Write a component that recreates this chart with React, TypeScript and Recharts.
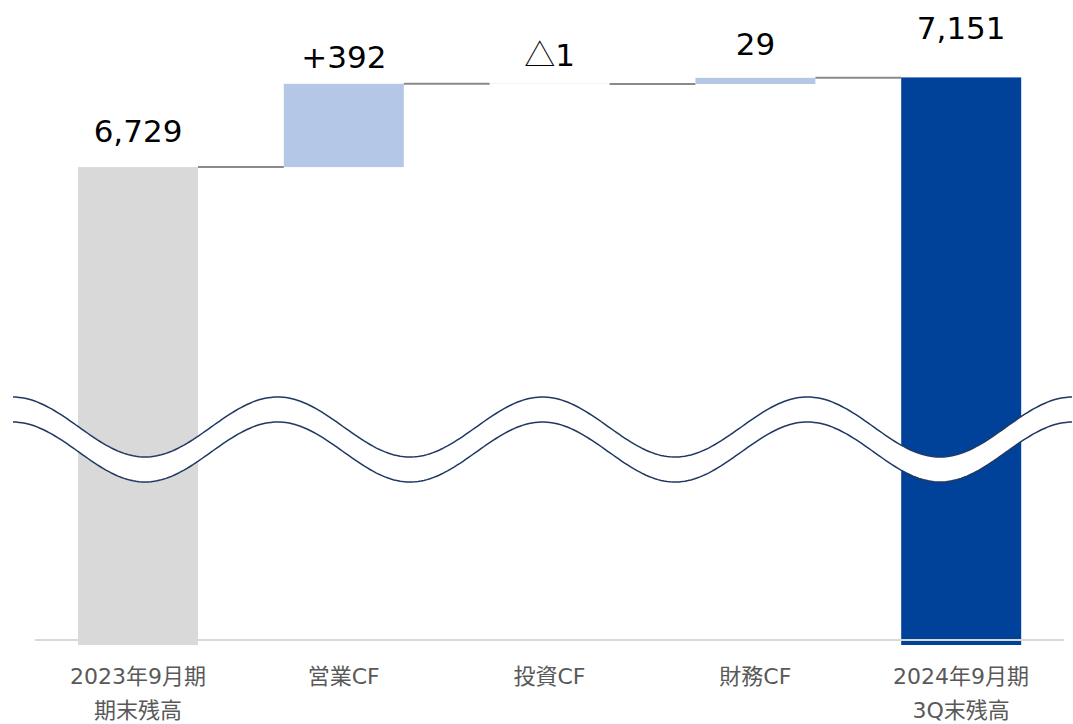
import React from "react";
import { BarChart, Bar, XAxis, YAxis, Cell, LabelList, ReferenceLine } from "recharts";

const categories = ["2023年9月期\n期末残高", "営業CF", "投資CF", "財務CF", "2024年9月期\n3Q末残高"];
const values = [6729, 392, -1, 29, 7151];
const kinds = ["total", "delta", "delta", "delta", "total"];
const valueLabels = ["6,729", "+392", "△1", "29", "7,151"];

const barColors = ["#d9d9d9", "#b4c7e7", "#b4c7e7", "#b4c7e7", "#00419a"];
const labelGaps = [25, 16, 18, 23, 38];
const FONT = "'DejaVu Sans', 'Noto Sans CJK JP', sans-serif";
const CJK_FONT = "'Noto Sans CJK JP', sans-serif";

const W = 1073;
const H = 724;
const MARGIN = { top: 67, right: 9, left: 35, bottom: 5 };
const BAR_SIZE = 120;
const BAND = (W - MARGIN.left - MARGIN.right) / categories.length;
const GAP = BAND - BAR_SIZE;

const data = (() => {
  let running = 0;
  return categories.map((c, i) => {
    const v = values[i];
    let base: number;
    let bar: number;
    if (kinds[i] === "total") {
      base = 0;
      bar = v;
      running = v;
    } else {
      base = Math.min(running, running + v);
      bar = Math.abs(v);
      running = running + v;
    }
    return { name: c, base, bar, delta: v, idx: i };
  });
})();

const StepShape = (props: any) => {
  const { x, y, width, height, fill, payload } = props;
  const i = payload.idx;
  const last = i === categories.length - 1;
  const endY = payload.delta < 0 && kinds[i] === "delta" ? y + height : y;
  return (
    <g>
      <rect x={x} y={y} width={width} height={Math.max(height, 0)} fill={fill} />
      {!last && (
        <line x1={x + width} x2={x + width + GAP} y1={endY} y2={endY} stroke="#8a8a8a" strokeWidth={2} />
      )}
    </g>
  );
};

const ValueLabel = (props: any) => {
  const { x, y, width, index } = props;
  const txt = valueLabels[index];
  const tri = txt.startsWith("△");
  return (
    <text
      x={x + width / 2}
      y={y - labelGaps[index]}
      textAnchor="middle"
      fontFamily={FONT}
      fontSize={31}
      fill="#000000"
    >
      {tri ? (
        <>
          <tspan fontFamily={CJK_FONT} fontWeight={300}>△</tspan>
          <tspan>{txt.slice(1)}</tspan>
        </>
      ) : (
        txt
      )}
    </text>
  );
};

const Tick = (props: any) => {
  const { x, payload } = props;
  const lines = String(payload.value).split("\n");
  return (
    <text x={x} y={0} textAnchor="middle" fontFamily={FONT} fontSize={22} fill="#595959">
      {lines.map((l, k) => (
        <tspan key={k} x={x} y={684 + k * 34}>
          {l}
        </tspan>
      ))}
    </text>
  );
};

const Wave = () => {
  const up: [number, number][] = [];
  for (let px = 13; px <= W; px += 3) {
    up.push([px, 427 + 30 * Math.cos((2 * Math.PI * (px - 145)) / 265)]);
  }
  const low = up.map(([px, py]) => [px, py + 25] as [number, number]);
  const toPath = (pts: [number, number][]) =>
    pts.map((p, k) => `${k === 0 ? "M" : "L"}${p[0].toFixed(1)},${p[1].toFixed(1)}`).join(" ");
  const fillPath =
    toPath(up) + " " + low.slice().reverse().map((p) => `L${p[0].toFixed(1)},${p[1].toFixed(1)}`).join(" ") + " Z";
  return (
    <svg width={W} height={H} style={{ position: "absolute", left: 0, top: 0, pointerEvents: "none" }}>
      <path d={fillPath} fill="#ffffff" stroke="none" />
      <path d={toPath(up)} fill="none" stroke="#203864" strokeWidth={1.5} />
      <path d={toPath(low)} fill="none" stroke="#203864" strokeWidth={1.5} />
    </svg>
  );
};

export default function App() {
  return (
    <div style={{ position: "absolute", left: 0, top: 0, width: W, height: H, background: "#ffffff" }}>
      <BarChart width={W} height={H} data={data} margin={MARGIN} barSize={BAR_SIZE}>
        <XAxis dataKey="name" axisLine={false} tickLine={false} height={74} tick={<Tick />} interval={0} />
        <YAxis hide domain={[4480, 7200]} allowDataOverflow type="number" />
        <Bar dataKey="base" stackId="a" fill="transparent" isAnimationActive={false} />
        <Bar dataKey="bar" stackId="a" isAnimationActive={false} shape={<StepShape />}>
          {data.map((d, i) => (
            <Cell key={i} fill={barColors[i]} />
          ))}
          <LabelList dataKey="bar" content={<ValueLabel />} />
        </Bar>
        <ReferenceLine y={4503} stroke="#d9d9d9" strokeWidth={2} />
      </BarChart>
      <Wave />
    </div>
  );
}
